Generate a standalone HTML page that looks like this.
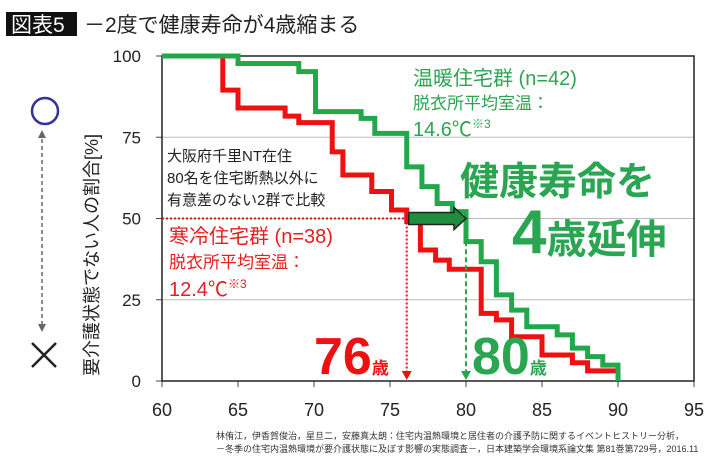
<!DOCTYPE html>
<html><head><meta charset="utf-8"><style>
body{margin:0;background:#fff;}
svg{display:block;font-family:"Liberation Sans","Noto Sans CJK JP",sans-serif;}
</style></head><body>
<svg id="chart" width="710" height="462" viewBox="0 0 710 462" xmlns="http://www.w3.org/2000/svg">
<rect x="6" y="12" width="71" height="24" fill="#111"/>
<text x="11" y="32" font-size="21" fill="#fff">図表5</text>
<text x="84" y="32" font-size="21" fill="#222">－2度で健康寿命が4歳縮まる</text>
<g id="grid"></g>
<g id="axes"></g>
<g id="series"></g>
<g id="ann"></g>
<circle cx="45" cy="111" r="13" fill="none" stroke="#33339a" stroke-width="2.5"/>
<line x1="42" y1="132" x2="42" y2="330" stroke="#666" stroke-width="1.5" stroke-dasharray="4,3"/>
<path d="M38,138 L42,130 L46,138 Z M38,324 L42,332 L46,324 Z" fill="#666"/>
<path d="M32,343 L56,367 M56,343 L32,367" stroke="#222" stroke-width="2.5"/>
<text transform="translate(98,376) rotate(-90)" font-size="18" fill="#222">要介護状態でない人の割合[%]</text>
<text x="413" y="85" font-size="20" fill="#2aa552">温暖住宅群 (n=42)</text>
<text x="413" y="109" font-size="17" fill="#2aa552">脱衣所平均室温：</text>
<text x="413" y="136" font-size="20" fill="#2aa552">14.6℃<tspan font-size="12" dy="-8">※3</tspan></text>
<text x="167" y="161" font-size="15" fill="#222">大阪府千里NT在住</text>
<text x="167" y="183" font-size="15" fill="#222">80名を住宅断熱以外に</text>
<text x="167" y="205" font-size="15" fill="#222">有意差のない2群で比較</text>
<text x="169" y="243" font-size="20" fill="#e61e1e">寒冷住宅群 (n=38)</text>
<text x="169" y="268" font-size="17" fill="#e61e1e">脱衣所平均室温：</text>
<text x="169" y="296" font-size="20" fill="#e61e1e">12.4℃<tspan font-size="12" dy="-8">※3</tspan></text>
<text x="460" y="195" font-size="39" font-weight="bold" fill="#2aa552">健康寿命を</text>
<text x="512" y="253" font-size="62" font-weight="bold" fill="#2aa552">4<tspan font-size="40">歳延伸</tspan></text>
<text x="314" y="374" font-size="52" font-weight="bold" fill="#ee1111">76<tspan font-size="17">歳</tspan></text>
<text x="472" y="374" font-size="52" font-weight="bold" fill="#2aa552">80<tspan font-size="17">歳</tspan></text>
<text x="216" y="439" font-size="9" fill="#333">林侑江，伊香賀俊治，星旦二，安藤真太朗：住宅内温熱環境と居住者の介護予防に関するイベントヒストリー分析，</text>
<text x="216" y="452" font-size="9" fill="#333">－冬季の住宅内温熱環境が要介護状態に及ぼす影響の実態調査－，日本建築学会環境系論文集 第81巻第729号，2016.11</text>
</svg>
<script>
const xTicks=[60,65,70,75,80,85,90,95];
const yTicks=[0,25,50,75,100];
const coldAges=[60,64,65,68.1,69,71.2,71.9,73.8,75.1,76.1,77,78,78.9,81,82,83,85,87,88,89.9];
const coldValues=[100,89.5,84,81.5,79.5,70.5,63.4,58.3,52.6,49,40.3,37.2,34.4,20.8,18.8,13.6,8,5.6,3.1,3.1];
const warmAges=[60,65,69,70.1,73.1,74,76.1,77.1,78.1,79.1,80,81,82,83,84,86,87,88,89,90];
const warmValues=[100,97.7,95.2,82.9,80.8,76.2,65.9,59.8,54.6,52.1,42.9,36.7,26.5,21.8,16.7,14.2,10.1,7.5,4.9,0];
const medianCold=76.1, medianWarm=80;
const X0=162,X1=694,Y0=381,Y1=56;
const sx=v=>X0+(v-60)/35*(X1-X0);
const sy=v=>Y0-v/100*(Y0-Y1);
const NS='http://www.w3.org/2000/svg';
function mk(t,a,p){const e=document.createElementNS(NS,t);for(const k in a)e.setAttribute(k,a[k]);document.getElementById(p).appendChild(e);return e;}
yTicks.forEach(v=>{
 if(v>0&&v<100){const g=mk('line',{x1:X0,x2:X1,y1:sy(v),y2:sy(v),stroke:'#bbb','stroke-width':1},'grid');
 
 }
 const t=mk('line',{x1:X0-6,x2:X0,y1:sy(v),y2:sy(v),stroke:'#444'},'axes');
 
 
 const l=mk('text',{x:141,y:sy(v)+6,'font-size':17,'text-anchor':'end',fill:'#222'},'axes');
 l.textContent=v;
 
 
});
xTicks.forEach(v=>{
 const t=mk('line',{x1:sx(v),x2:sx(v),y1:Y0,y2:Y0+6,stroke:'#444'},'axes');
 
 
 const l=mk('text',{x:sx(v),y:416,'font-size':18,'text-anchor':'middle',fill:'#222'},'axes');
 l.textContent=v;
 
 
});
const fr=mk('path',{d:`M${X0},${Y1} H${X1} V${Y0} H${X0} Z`,fill:'none',stroke:'#222','stroke-width':1.5},'axes');


function step(ages,vals){let d=`M${sx(ages[0])},${sy(vals[0])}`;for(let i=1;i<ages.length;i++){d+=` H${sx(ages[i])} V${sy(vals[i])}`;}return d;}
const gc=mk('path',{d:step(coldAges,coldValues),fill:'none',stroke:'#ee1111','stroke-width':5,'stroke-linejoin':'miter'},'series');


const gw=mk('path',{d:step(warmAges,warmValues),fill:'none',stroke:'#22a84a','stroke-width':5,'stroke-linejoin':'miter'},'series');


const h=mk('line',{x1:X0,x2:sx(medianCold),y1:sy(50),y2:sy(50),stroke:'#ee1111','stroke-width':2,'stroke-dasharray':'2,2'},'ann');


const vc=mk('line',{x1:sx(medianCold),x2:sx(medianCold),y1:sy(50),y2:Y0-8,stroke:'#ee1111','stroke-width':2,'stroke-dasharray':'2,2'},'ann');


const ac=mk('path',{d:`M${sx(medianCold)-5},${Y0-10} L${sx(medianCold)},${Y0-1} L${sx(medianCold)+5},${Y0-10} Z`,fill:'#ee1111'},'ann');


const vw=mk('line',{x1:sx(medianWarm),x2:sx(medianWarm),y1:sy(43),y2:Y0-8,stroke:'#22a84a','stroke-width':2,'stroke-dasharray':'5,3'},'ann');


const aw=mk('path',{d:`M${sx(medianWarm)-5},${Y0-10} L${sx(medianWarm)},${Y0-1} L${sx(medianWarm)+5},${Y0-10} Z`,fill:'#22a84a'},'ann');


const a0=sx(medianCold)+2,a1=sx(medianWarm),ym=sy(50);
const sh=mk('path',{d:`M${a0},${ym-6} H${a1-12} V${ym-11} L${a1},${ym} L${a1-12},${ym+11} V${ym+6} H${a0} Z`,fill:'#1f8c3e',stroke:'#222','stroke-width':1.5},'ann');


</script>
</body></html>
